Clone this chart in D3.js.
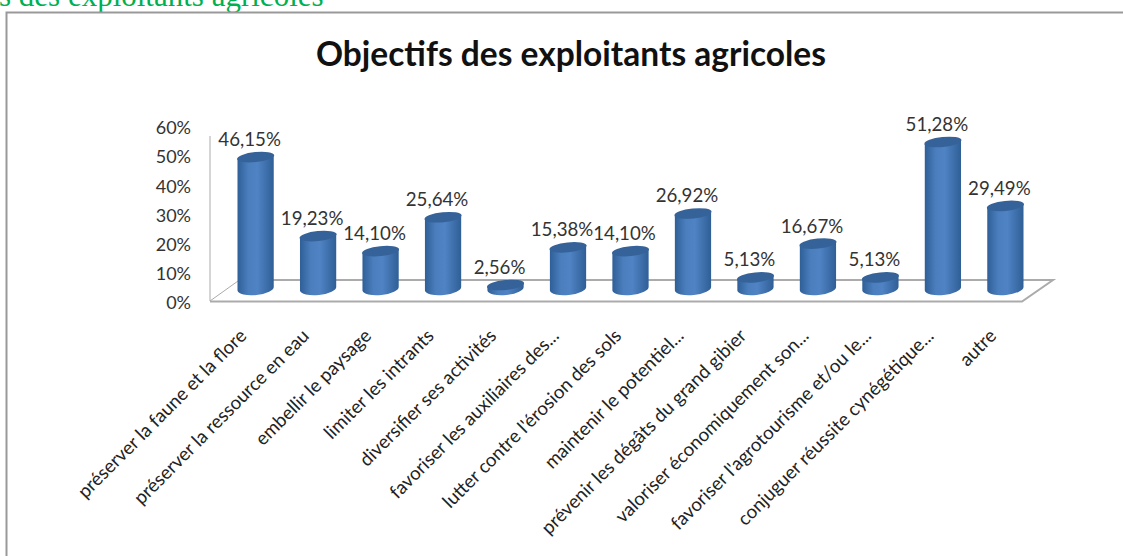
<!DOCTYPE html>
<html>
<head>
<meta charset="UTF-8">
<title>Objectifs des exploitants agricoles</title>
<script src="https://cdn.jsdelivr.net/npm/d3@7"></script>
<style>
  html, body { margin: 0; padding: 0; background: #fff; overflow: hidden; }
  svg { display: block; }
  text { font-family: Lato, "Open Sans", sans-serif; fill: #222; }
</style>
</head>
<body>
<div id="graphe"></div>
<script>
var categories = ["préserver la faune et la flore", "préserver la ressource en eau", "embellir le paysage",
  "limiter les intrants", "diversifier ses activités", "favoriser les auxiliaires des...",
  "lutter contre l'érosion des sols", "maintenir le potentiel...", "prévenir les dégâts du grand gibier",
  "valoriser économiquement son...", "favoriser l'agrotourisme et/ou le...", "conjuguer réussite cynégétique...", "autre"];
var values = [46.15, 19.23, 14.10, 25.64, 2.56, 15.38, 14.10, 26.92, 5.13, 16.67, 5.13, 51.28, 29.49];
var ticks = [0, 10, 20, 30, 40, 50, 60];

var width = 1123, height = 556;
var svg = d3.select("#graphe").append("svg").attr("width", width).attr("height", height);

function pct(v) { return v.toFixed(2).replace(".", ",") + "%"; }

var defs = svg.append("defs");
var grad = defs.append("linearGradient").attr("id", "cyl");
grad.append("stop").attr("offset", "0%").attr("stop-color", "#2f5f97");
grad.append("stop").attr("offset", "30%").attr("stop-color", "#4a7ebd");
grad.append("stop").attr("offset", "55%").attr("stop-color", "#4f83c4");
grad.append("stop").attr("offset", "85%").attr("stop-color", "#3a6ba6");
grad.append("stop").attr("offset", "100%").attr("stop-color", "#2f5f94");

// titre vert coupé en haut de la page
svg.append("text").attr("x", -1).attr("y", 6)
  .style("font-family", "'Liberation Serif', serif").style("font-size", "31px").style("fill", "#00b050")
  .text("s des exploitants agricoles");

// cadre, ouvert à droite
svg.append("rect").attr("x", 6.5).attr("y", 12.5).attr("width", 1200).attr("height", 600)
  .attr("fill", "none").attr("stroke", "#999").attr("stroke-width", 2);

svg.append("text").attr("x", 571).attr("y", 66).attr("text-anchor", "middle")
  .style("font-size", "33.5px").style("font-weight", "700").style("fill", "#111")
  .text("Objectifs des exploitants agricoles");

// échelles
var x = d3.scaleBand().domain(categories).range([225, 1036]).paddingInner(0.42).paddingOuter(0.2);
var yAxis = d3.scaleLinear().domain([0, 60]).range([303, 128]);
var yBar = d3.scaleLinear().domain([0, 60]).range([292.5, 116.4]);

// plancher et mur
var floor = svg.append("g").attr("fill", "none").attr("stroke", "#ababab");
floor.append("path").attr("stroke-width", 2)
  .attr("d", "M210,301.5H1022L1053,280H238");
floor.append("path").attr("stroke-width", 1).attr("d", "M210,301L238,281");
floor.append("path").attr("stroke-width", 1).attr("d", "M210,136V301");

// axe y, sans trait
svg.append("g").attr("transform", "translate(192,0)")
  .call(d3.axisLeft(yAxis).tickValues(ticks).tickSize(0).tickPadding(1).tickFormat(function(d) { return d + "%"; }))
  .call(function(g) { g.select(".domain").remove(); })
  .selectAll("text").style("font-size", "18px").style("font-family", "Lato, sans-serif").style("fill", "#333");

// cylindres
var barW = x.bandwidth(), ry = 6.5;
var bars = svg.append("g").selectAll("g").data(values).enter().append("g");

bars.append("path")
  .attr("fill", "url(#cyl)")
  .attr("d", function(d, i) {
    var x0 = x(categories[i]), x1 = x0 + barW, b = yBar(0) - 4, t = yBar(d), rx = barW / 2;
    return "M" + x0 + "," + (t + 2) +
      "L" + x0 + "," + (b + 2) +
      "A" + rx + "," + ry + " -6 0 0 " + x1 + "," + (b - 2) +
      "L" + x1 + "," + (t - 2) + "Z";
  });

bars.append("ellipse")
  .attr("fill", "#356399")
  .attr("rx", barW / 2 + 0.5).attr("ry", ry - 1.5)
  .attr("transform", function(d, i) {
    return "translate(" + (x(categories[i]) + barW / 2) + "," + yBar(d) + ") rotate(-6)";
  });

bars.append("text")
  .attr("x", function(d, i) { return x(categories[i]) + barW / 2 - 6; })
  .attr("y", function(d) { return yBar(d) - 11; })
  .attr("text-anchor", "middle").style("font-size", "18.7px").style("fill", "#333")
  .text(pct);

// étiquettes de catégories à 45°
svg.append("g").selectAll("text").data(categories).enter().append("text")
  .attr("text-anchor", "end")
  .style("font-size", "18.7px").style("fill", "#222")
  .attr("transform", function(d) {
    return "translate(" + (x(d) + barW / 2 - 8) + ",337) rotate(-45)";
  })
  .text(function(d) { return d; });
</script>
</body>
</html>
